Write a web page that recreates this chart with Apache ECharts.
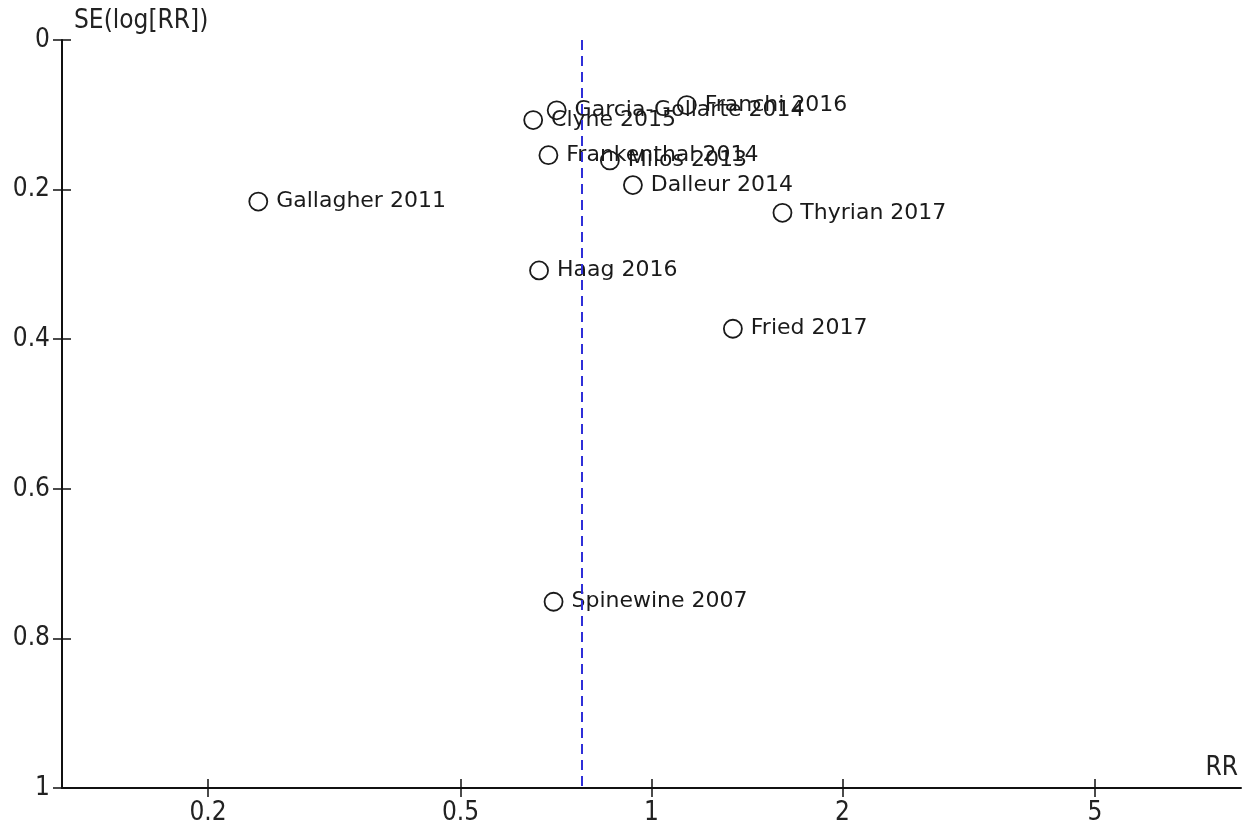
<!DOCTYPE html>
<html>
<head>
<meta charset="utf-8">
<script src="https://cdn.jsdelivr.net/npm/echarts@6/dist/echarts.min.js"></script>
<style>html,body{margin:0;padding:0;background:#fff}#c{width:1242px;height:826px}</style>
</head>
<body>
<div id="c"></div>
<script>
// Study names, risk ratios and standard errors of log(RR)
const studies = ["Gallagher 2011","Haag 2016","Spinewine 2007","Fried 2017","Thyrian 2017","Dalleur 2014","Milos 2013","Frankenthal 2014","Clyne 2015","Garcia-Gollarte 2014","Franchi 2016"];
const rr = [0.240, 0.665, 0.701, 1.344, 1.609, 0.935, 0.860, 0.688, 0.651, 0.709, 1.137];
const se = [0.216, 0.308, 0.751, 0.386, 0.231, 0.194, 0.161, 0.154, 0.107, 0.094, 0.087];
const pooledRR = 0.784;
const xTickValues = [0.2, 0.5, 1, 2, 5];
const yTickValues = [0, 0.2, 0.4, 0.6, 0.8, 1];
const rrMin = 0.1177, rrMax = 8.5;

const narrow = "'Liberation Sans Narrow','DejaVu Sans Condensed',sans-serif";
const xLog = xTickValues.map(v => Math.log10(v));
const data = studies.map((n, i) => ({name: n, value: [Math.log10(rr[i]), se[i]]}));
const fmtX = v => String(+Math.pow(10, v).toPrecision(2));

const chart = echarts.init(document.getElementById('c'), null, {renderer: 'canvas'});
const grid = {left: 62, right: 1, top: 40, bottom: 36};
const xBase = {type: 'value', min: Math.log10(rrMin), max: Math.log10(rrMax), splitLine: {show: false}};
const yBase = {type: 'value', min: 0, max: 1, interval: 0.2, inverse: true, splitLine: {show: false}};
chart.setOption({
  animation: false,
  grid: grid,
  xAxis: [
    Object.assign({}, xBase, {
      position: 'bottom',
      axisLine: {show: true, onZero: false, lineStyle: {color: '#111', width: 2}},
      axisTick: {show: true, length: 9, lineStyle: {color: '#111', width: 1.5}, customValues: xLog},
      axisLabel: {show: true, margin: 12, color: '#222', fontFamily: narrow, fontSize: 26, customValues: xLog, formatter: fmtX}
    }),
    Object.assign({}, xBase, {
      position: 'bottom',
      axisLine: {show: false, onZero: false},
      axisTick: {show: true, inside: true, length: 9, lineStyle: {color: '#111', width: 1.5}, customValues: xLog},
      axisLabel: {show: false}
    })
  ],
  yAxis: [
    Object.assign({}, yBase, {
      position: 'left',
      axisLine: {show: true, onZero: false, lineStyle: {color: '#111', width: 2}},
      axisTick: {show: true, length: 9, lineStyle: {color: '#111', width: 1.5}},
      axisLabel: {show: true, margin: 12, color: '#222', fontFamily: narrow, fontSize: 26,
        formatter: v => String(+v.toFixed(1))}
    }),
    Object.assign({}, yBase, {
      position: 'left',
      axisLine: {show: false, onZero: false},
      axisTick: {show: true, inside: true, length: 9, lineStyle: {color: '#111', width: 1.5}},
      axisLabel: {show: false}
    })
  ],
  graphic: [
    {type: 'text', left: 74, top: 8, style: {text: 'SE(log[RR])', fill: '#222', font: "26px " + narrow}},
    {type: 'text', right: 4, top: 755, style: {text: 'RR', fill: '#222', font: "26px " + narrow}}
  ],
  series: [{
    type: 'scatter',
    xAxisIndex: 0, yAxisIndex: 0,
    data: data,
    symbol: 'circle',
    symbolSize: 18,
    itemStyle: {color: 'rgba(255,255,255,0)', borderColor: '#1a1a1a', borderWidth: 1.8, opacity: 1},
    label: {show: true, position: 'right', distance: 8, formatter: p => p.name,
      color: '#1a1a1a', fontFamily: "'DejaVu Sans', sans-serif", fontSize: 22},
    markLine: {
      silent: true, symbol: 'none',
      label: {show: false},
      lineStyle: {color: '#2f2fd8', width: 2, type: [10, 6], opacity: 1},
      data: [{xAxis: Math.log10(pooledRR)}]
    }
  }]
});
</script>
</body>
</html>
